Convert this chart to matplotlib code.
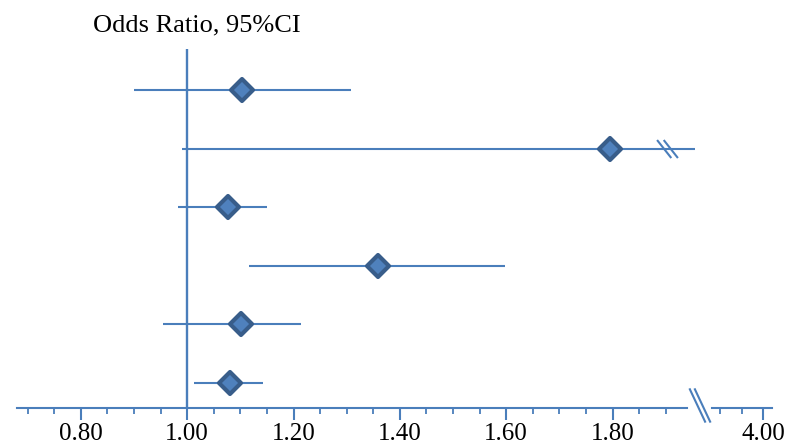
import numpy as np
import matplotlib
matplotlib.use("Agg")
import matplotlib.pyplot as plt
from matplotlib.path import Path
from matplotlib.markers import MarkerStyle

plt.rcParams["font.family"] = ["Liberation Serif", "DejaVu Serif"]

# Odds ratios and 95% CI, top row first
rows = [6, 5, 4, 3, 2, 1]
odds = [1.103, 1.795, 1.077, 1.359, 1.102, 1.081]
ci_low = [0.900, 0.990, 0.983, 1.117, 0.955, 1.013]
ci_high = [1.308, 2.600, 1.150, 1.598, 1.214, 1.143]
broken_rows = [5]          # rows whose CI runs past the axis break
break_at = [1.902]

major_left = [0.80, 1.00, 1.20, 1.40, 1.60, 1.80]
major_right = [4.00]

line_col = "#4A7EBB"
fill_col = "#4F81BD"
edge_col = "#385D8A"

W, H = 785, 447
fig = plt.figure(figsize=(W / 100, H / 100), dpi=100)

# left part of the broken axis
ax = fig.add_axes([17 / W, (H - 408) / H, (695 - 17) / W, (408 - 49) / H])
ax.set_xlim(0.68, 1.955)
ax.set_ylim(0.573, 6.70)

ax.axvline(1.0, color=line_col, lw=1.7, zorder=1)
ax.hlines(rows, ci_low, ci_high, color=line_col, lw=1.5, zorder=2)
diamond = MarkerStyle("D", joinstyle="round")
ax.plot(odds, rows, ls="none", marker=diamond, ms=11.5, mfc=fill_col,
        mec=edge_col, mew=3, zorder=3)

# double slash on the truncated CI
slash = Path([(-11, 10), (4, -9), (-4, 10), (11, -9)],
             [Path.MOVETO, Path.LINETO, Path.MOVETO, Path.LINETO])
ax.plot(break_at, broken_rows, ls="none", marker=slash, ms=15,
        mec=line_col, mew=1.5, zorder=3)

# right part, after the break
ax2 = fig.add_axes([712 / W, (H - 408) / H, (772 - 712) / W, (408 - 49) / H])
ax2.set_xlim(3.881, 4.021)
ax2.set_ylim(ax.get_ylim())

for a in (ax, ax2):
    for s in ("top", "right", "left"):
        a.spines[s].set_visible(False)
    a.spines["bottom"].set_color(line_col)
    a.spines["bottom"].set_linewidth(1.5)
    a.set_yticks([])
    a.tick_params(axis="x", which="major", length=8.6, width=1.5,
                  color=line_col, labelsize=18, pad=2.5)
    a.tick_params(axis="x", which="minor", length=4.2, width=1.3,
                  color=line_col)
    a.patch.set_alpha(0)

ax.spines["bottom"].set_bounds(0.68, 1.94)
ax.set_xticks(major_left)
ax.set_xticks(np.arange(0.70, 1.901, 0.05), minor=True)
ax.set_xticklabels([f"{v:.2f}" for v in major_left])

ax2.set_xticks(major_right)
ax2.set_xticks([3.90, 3.95, 4.00], minor=True)
ax2.set_xticklabels([f"{v:.2f}" for v in major_right])

# axis break marks
axis_break = Path([(-11, 20), (5, -14), (-6, 20), (10, -14)],
                  [Path.MOVETO, Path.LINETO, Path.MOVETO, Path.LINETO])
fig.lines.append(plt.Line2D([700 / W], [(H - 408) / H], transform=fig.transFigure,
                            ls="none", marker=axis_break, ms=29,
                            mec=line_col, mew=1.5))

fig.text(93 / W, 1 - 25 / H, "Odds Ratio, 95%CI", fontsize=19,
         ha="left", va="center")

fig.savefig("out.png", dpi=100)
